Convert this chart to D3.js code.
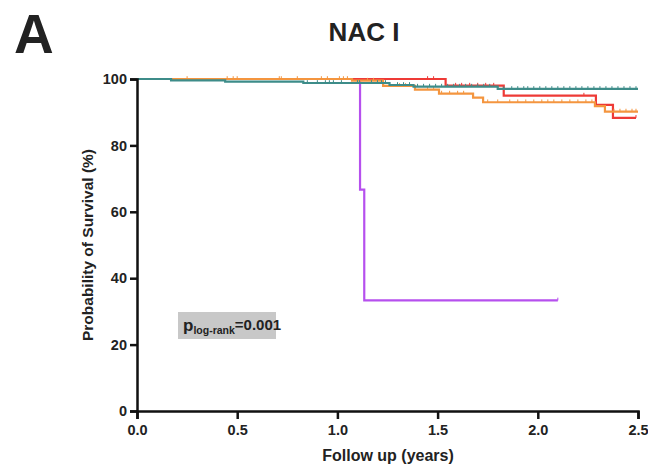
<!DOCTYPE html>
<html lang="en">
<head>
<meta charset="UTF-8">
<title>NAC I</title>
<script src="https://cdn.jsdelivr.net/npm/d3@7"></script>
<style>
  body { margin: 0; background: #fff; }
  svg text { font-family: "Liberation Sans", Arial, sans-serif; font-weight: bold; fill: #222; }
</style>
</head>
<body>
<div id="chart"></div>
<script>
// survival steps: time of each step and survival (%) after it, last follow-up, censor times
var tealTimes = [0, 0.17, 0.44, 0.83, 1.26, 1.38, 1.80];
var tealSurv = [100, 99.6, 99.2, 98.8, 98.2, 97.7, 97.0];
var tealEnd = 2.5;
var tealCensor = [0.85, 0.90, 0.94, 0.96, 0.98, 1.02, 1.10, 1.11, 1.17, 1.20, 1.22, 1.24, 1.30, 1.33, 1.36,
  1.40, 1.43, 1.46, 1.49, 1.52, 1.55, 1.58, 1.61, 1.64, 1.67, 1.70, 1.73, 1.76, 1.83, 1.87, 1.90, 1.93,
  1.95, 1.98, 2.01, 2.04, 2.07, 2.10, 2.13, 2.16, 2.19, 2.22, 2.25, 2.28, 2.31, 2.34, 2.37, 2.40, 2.43, 2.46, 2.49];

var orangeTimes = [0, 1.073, 1.228, 1.387, 1.507, 1.677, 1.727, 2.285, 2.335];
var orangeSurv = [100, 99.5, 97.9, 96.8, 95.6, 94.4, 93.0, 91.8, 90.2];
var orangeEnd = 2.5;
var orangeCensor = [0.25, 0.45, 0.48, 0.50, 0.71, 0.72, 0.80, 0.92, 0.95, 1.01, 1.03, 1.05, 1.15, 1.18,
  1.31, 1.34, 1.45, 1.48, 1.52, 1.56, 1.60, 1.63, 1.75, 1.80, 1.86, 1.90, 1.94, 1.98, 2.02, 2.05, 2.08,
  2.12, 2.16, 2.20, 2.24, 2.27, 2.38, 2.41, 2.44, 2.47, 2.49];

var redTimes = [0, 1.54, 1.83, 2.29, 2.375];
var redSurv = [100, 98.0, 95.0, 92.2, 88.3];
var redEnd = 2.49;
var redCensor = [1.45, 1.48, 1.59, 1.62, 1.66, 1.70, 1.74, 1.78, 2.23, 2.49];

var purpleTimes = [0, 1.113, 1.134];
var purpleSurv = [100, 66.7, 33.3];
var purpleEnd = 2.10;
var purpleCensor = [2.10];

var xTicks = [0, 0.5, 1.0, 1.5, 2.0, 2.5];
var yTicks = [0, 20, 40, 60, 80, 100];

var W = 648, H = 467;
var mLeft = 137, mRight = 638, mTop = 79, mBottom = 411;

var svg = d3.select("#chart").append("svg").attr("width", W).attr("height", H);

var x = d3.scaleLinear().domain([0, 2.5]).range([mLeft, mRight]);
var y = d3.scaleLinear().domain([0, 100]).range([mBottom, mTop]);

function stepPoints(times, surv, end) {
  var pts = times.map(function (t, i) { return [t, surv[i]]; });
  pts.push([end, surv[surv.length - 1]]);
  return pts;
}

function survAt(times, surv, t) {
  var s = surv[0];
  for (var i = 0; i < times.length; i++) { if (times[i] <= t) s = surv[i]; }
  return s;
}

var line = d3.line()
  .x(function (d) { return x(d[0]); })
  .y(function (d) { return y(d[1]); })
  .curve(d3.curveStepAfter);

var groups = [
  { times: purpleTimes, surv: purpleSurv, end: purpleEnd, censor: purpleCensor, color: "#b650ee" },
  { times: redTimes, surv: redSurv, end: redEnd, censor: redCensor, color: "#ee3a36" },
  { times: orangeTimes, surv: orangeSurv, end: orangeEnd, censor: orangeCensor, color: "#f4953f" },
  { times: tealTimes, surv: tealSurv, end: tealEnd, censor: tealCensor, color: "#3d8c89" }
];

groups.forEach(function (g) {
  var gg = svg.append("g");
  gg.append("path")
    .attr("d", line(stepPoints(g.times, g.surv, g.end)))
    .attr("fill", "none")
    .attr("stroke", g.color)
    .attr("stroke-width", 2.2);
  gg.selectAll("line.cens")
    .data(g.censor).enter()
    .append("line")
    .attr("class", "cens")
    .attr("x1", function (d) { return x(d); })
    .attr("x2", function (d) { return x(d); })
    .attr("y1", function (d) { return y(survAt(g.times, g.surv, d)); })
    .attr("y2", function (d) { return y(survAt(g.times, g.surv, d)) - 2.8; })
    .attr("stroke", g.color)
    .attr("stroke-width", 1);
});

// axes
var xAxis = svg.append("g")
  .attr("transform", "translate(0," + mBottom + ")")
  .call(d3.axisBottom(x).tickValues(xTicks).tickFormat(d3.format(".1f")).tickSize(8).tickPadding(6));
var yAxis = svg.append("g")
  .attr("transform", "translate(" + mLeft + ",0)")
  .call(d3.axisLeft(y).tickValues(yTicks).tickSize(7).tickPadding(3));

[xAxis, yAxis].forEach(function (a) {
  a.select(".domain").attr("stroke", "#111").attr("stroke-width", 2.5);
  a.selectAll(".tick line").attr("stroke", "#111").attr("stroke-width", 2.5);
  a.selectAll(".tick text").attr("font-size", 14.5).attr("fill", "#222")
    .style("font-family", "Liberation Sans, Arial, sans-serif").style("font-weight", "bold");
});

// titles
svg.append("text").attr("x", 14).attr("y", 53).attr("font-size", 55).text("A");
svg.append("text").attr("x", 364).attr("y", 41).attr("text-anchor", "middle").attr("font-size", 26).text("NAC I");
svg.append("text").attr("x", 388).attr("y", 461).attr("text-anchor", "middle").attr("font-size", 16).text("Follow up (years)");
svg.append("text")
  .attr("transform", "translate(93,245) rotate(-90)")
  .attr("text-anchor", "middle").attr("font-size", 15.5)
  .text("Probability of Survival (%)");

// p-value box
svg.append("rect").attr("x", 178).attr("y", 312).attr("width", 98).attr("height", 27).attr("fill", "#c8c8c8");
var pt = svg.append("text").attr("x", 183).attr("y", 331).attr("font-size", 17);
pt.append("tspan").text("p");
pt.append("tspan").attr("font-size", 10.5).attr("dy", 3).text("log-rank");
pt.append("tspan").attr("font-size", 15).attr("dy", -4).text("=0.001");
</script>
</body>
</html>
